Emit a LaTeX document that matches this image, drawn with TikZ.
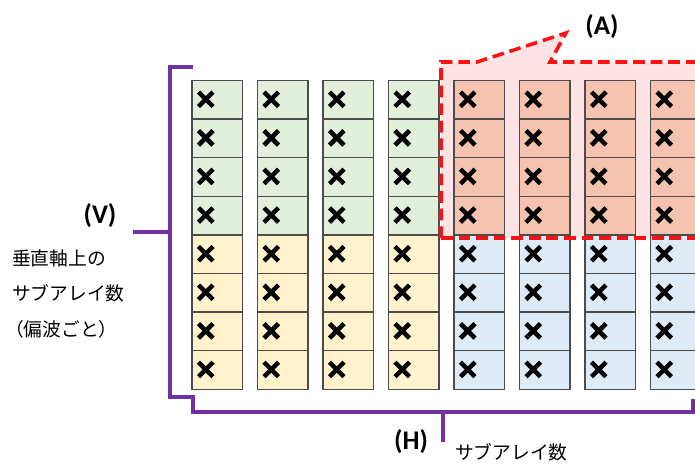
\documentclass[tikz,border=0pt]{standalone}
\usepackage{fontspec}
\setmainfont{Carlito}
\newfontfamily\jpfont{Noto Sans CJK JP}
\usetikzlibrary{positioning}

\definecolor{cellgreen}{HTML}{E2EFDA}
\definecolor{cellyellow}{HTML}{FFF2CC}
\definecolor{cellred}{HTML}{F6C3B0}
\definecolor{cellblue}{HTML}{DDEBF7}
\definecolor{areapink}{HTML}{FDE3E3}
\definecolor{brpurple}{HTML}{7030A0}
\definecolor{dashred}{HTML}{FF1010}

\tikzset{
  cell/.style={draw=black!70, line width=1.1pt},
  xmark/.style={line width=3.8pt, black},
  bracket/.style={brpurple, line width=3.2pt},
  callout/.style={dashred, line width=3pt, dash pattern=on 10pt off 5pt},
  lbl/.style={font=\fontsize{23}{26}\selectfont\bfseries, inner sep=0pt},
  jptext/.style={font=\jpfont\fontsize{16}{18}\selectfont, inner sep=0pt, anchor=west}
}

\begin{document}
\begin{tikzpicture}[x=0.03cm, y=-0.03cm]
  \path[use as bounding box, clip] (0,0) rectangle (695,465);

  % area (A)
  \fill[areapink] (441,62) -- (477,62) -- (566,33) -- (550,62) -- (720,62)
    -- (720,238) -- (441,238) -- cycle;

  % sub-arrays
  \foreach \i in {0,1,...,7} {
    \foreach \j in {0,1,...,7} {
      \pgfmathsetmacro{\cx}{192+65.5*\i}
      \pgfmathsetmacro{\cy}{80.5+38.6*\j}
      \ifnum\i<4
        \ifnum\j<4 \def\cc{cellgreen}\else\def\cc{cellyellow}\fi
      \else
        \ifnum\j<4 \def\cc{cellred}\else\def\cc{cellblue}\fi
      \fi
      \draw[cell, fill=\cc] (\cx,\cy) rectangle +(50.5,38.6);
      \draw[xmark] (\cx+6.5,\cy+11.5) -- +(14.5,14.5);
      \draw[xmark] (\cx+6.5,\cy+26) -- +(14.5,-14.5);
    }
  }

  \draw[callout] (441,238) -- (441,62) -- (477,62) -- (566,33) -- (550,62) -- (720,62);
  \draw[callout] (441,238) -- (720,238);

  % brackets
  \coordinate (vtop) at (193,67);
  \coordinate (vbot) at (193,397);
  \coordinate (vtick) at (133,232);
  \coordinate (hleft) at (193,412);
  \coordinate (hright) at (693,412);
  \coordinate (htick) at (443,442);
  \draw[bracket] (vtop) -- (170,67) -- (170,397) -- (vbot) -- (hleft) -- (hright) -- (693,399);
  \draw[bracket] (vtick) -- (170,232);
  \draw[bracket] (443,412) -- (htick);

  % labels
  \node[lbl] (lblA) at (602,27) {(A)};
  \node[lbl] (lblV) at (100,216) {(V)};
  \node[lbl] (lblH) at (411,442) {(H)};
  \node[jptext] (vtxt1) at (12,258) {垂直軸上の};
  \node[jptext, below=15pt of vtxt1.south west, anchor=north west] (vtxt2) {サブアレイ数};
  \node[jptext, below=15pt of vtxt2.south west, anchor=north west, xshift=-6pt] (vtxt3) {（偏波ごと）};
  \node[jptext] (htxt) at (455,452) {サブアレイ数};
\end{tikzpicture}
\end{document}
